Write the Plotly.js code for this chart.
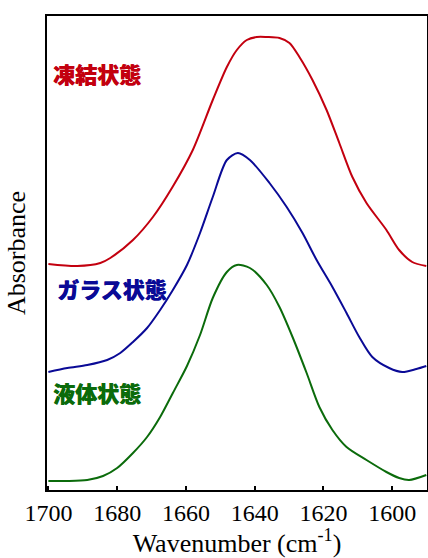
<!DOCTYPE html>
<html>
<head>
<meta charset="utf-8">
<script src="https://cdn.plot.ly/plotly-3.0.1.min.js"></script>
<style>html,body{margin:0;padding:0;background:#fff;}#chart{width:428px;height:558px;}</style>
</head>
<body>
<div id="chart"></div>
<script>
// Frozen state (凍結状態)
const frozenWavenumber = [1700, 1691.6, 1684.9, 1682.0, 1675.4, 1669.6, 1663.9, 1658.0, 1652.2, 1648.1, 1645.2, 1642.3, 1639.4, 1636.5, 1632.8, 1629.9, 1627.0, 1623.2, 1619.1, 1615.4, 1611.6, 1607.5, 1601.7, 1598.0, 1594.2, 1590.1];
const frozenAbs = [2.26, 2.24, 2.27, 2.32, 2.50, 2.73, 3.03, 3.40, 3.90, 4.23, 4.40, 4.50, 4.53, 4.53, 4.52, 4.47, 4.33, 4.10, 3.80, 3.47, 3.13, 2.87, 2.60, 2.40, 2.28, 2.24];

// Glass state (ガラス状態)
const glassWavenumber = [1700, 1694.5, 1688.7, 1682.9, 1679.1, 1675.4, 1671.3, 1667.5, 1663.8, 1659.7, 1655.9, 1652.2, 1648.1, 1644.9, 1641.4, 1635.7, 1630.7, 1626.1, 1622.0, 1617.4, 1613.3, 1609.6, 1605.8, 1600.9, 1597.1, 1593.0, 1590.1];
const glassAbs = [1.18, 1.22, 1.25, 1.30, 1.37, 1.48, 1.62, 1.80, 2.00, 2.25, 2.57, 2.93, 3.30, 3.37, 3.30, 3.07, 2.83, 2.57, 2.30, 2.03, 1.77, 1.53, 1.33, 1.22, 1.18, 1.21, 1.24];

// Liquid state (液体状態)
const liquidWavenumber = [1700, 1694.5, 1688.7, 1684.1, 1680.0, 1675.4, 1671.3, 1667.5, 1663.8, 1659.7, 1655.9, 1652.2, 1648.1, 1645.2, 1641.4, 1636.5, 1632.8, 1629.0, 1624.9, 1621.2, 1617.4, 1613.3, 1607.5, 1601.7, 1598.0, 1595.1, 1590.1];
const liquidAbs = [0.09, 0.09, 0.10, 0.14, 0.22, 0.37, 0.53, 0.73, 0.97, 1.24, 1.55, 1.92, 2.18, 2.25, 2.22, 2.05, 1.83, 1.53, 1.17, 0.83, 0.60, 0.43, 0.30, 0.18, 0.12, 0.10, 0.15];

const seriesNames = ["凍結状態", "ガラス状態", "液体状態"];
const tickValues = [1700, 1680, 1660, 1640, 1620, 1600];

const colors = ["#c3000f", "#0a0a96", "#0b6b0b"];
const serif = "Liberation Serif, Times New Roman, DejaVu Serif, serif";

const traces = [
  {x: frozenWavenumber, y: frozenAbs, name: seriesNames[0]},
  {x: glassWavenumber, y: glassAbs, name: seriesNames[1]},
  {x: liquidWavenumber, y: liquidAbs, name: seriesNames[2]}
].map((t, i) => Object.assign(t, {
  type: "scatter", mode: "lines",
  line: {color: colors[i], width: 2, shape: "spline", smoothing: 0.8},
  hoverinfo: "skip"
}));

const labelPos = [[0.011, 0.880], [0.022, 0.426], [0.011, 0.207]];
const annotations = seriesNames.map((s, i) => ({
  text: s, xref: "paper", yref: "paper",
  x: labelPos[i][0], y: labelPos[i][1], xanchor: "left", yanchor: "middle",
  showarrow: false,
  font: {family: "Noto Sans CJK JP", size: 22, weight: 900, color: colors[i],
         shadow: "0.5px 0 0 " + colors[i]}
}));

const layout = {
  width: 428, height: 558,
  margin: {l: 47, r: 1, t: 16, b: 68},
  paper_bgcolor: "#fff", plot_bgcolor: "#fff",
  showlegend: false,
  font: {family: serif, color: "#000"},
  xaxis: {
    range: [1700.4, 1589.9],
    tickvals: tickValues,
    ticks: "inside", ticklen: 4, tickwidth: 2, tickcolor: "#000",
    showline: true, linecolor: "#000", linewidth: 2, mirror: true,
    showgrid: false, zeroline: false,
    tickfont: {family: serif, size: 24, color: "#000"},
    title: {text: "Wavenumber (cm<sup>-1</sup>)", font: {family: serif, size: 26, color: "#000"}, standoff: 16}
  },
  yaxis: {
    range: [0, 4.74],
    showticklabels: false, ticks: "",
    showline: true, linecolor: "#000", linewidth: 2, mirror: true,
    showgrid: false, zeroline: false,
    title: {text: "Absorbance", font: {family: serif, size: 26, color: "#000"}, standoff: 12}
  },
  annotations: annotations
};

Plotly.newPlot("chart", traces, layout, {staticPlot: true, displayModeBar: false});
</script>
</body>
</html>
